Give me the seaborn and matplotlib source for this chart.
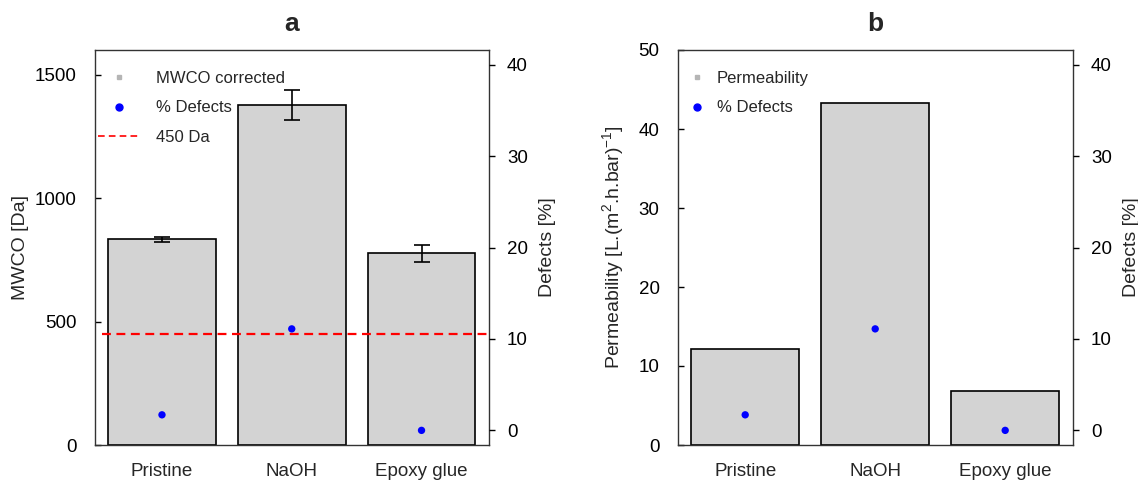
import matplotlib
matplotlib.use("Agg")
import matplotlib.pyplot as plt
import seaborn as sns
import numpy as np
import pandas as pd
from matplotlib.lines import Line2D

# ---- data ----
categories = ["Pristine", "NaOH", "Epoxy glue"]
mwco = [833, 1379, 776]
mwco_err = [10, 61, 33]
permeability = [12.2, 43.3, 6.8]
defects = [1.7, 11.1, 0.0]
threshold = 450
mwco_ticks = [0, 500, 1000, 1500]
perm_ticks = [0, 10, 20, 30, 40, 50]
defect_ticks = [0, 10, 20, 30, 40]

sns.set_style("white")
plt.rcParams["font.family"] = ["Liberation Sans", "DejaVu Sans"]
plt.rcParams["mathtext.fontset"] = "custom"
plt.rcParams["mathtext.rm"] = "Liberation Sans"
plt.rcParams["mathtext.it"] = "Liberation Sans:italic"
plt.rcParams["mathtext.bf"] = "Liberation Sans:bold"
plt.rcParams["mathtext.default"] = "regular"

W, H = 1138, 480
fig = plt.figure(figsize=(W / 100, H / 100), dpi=100)

def px_axes(x0, x1, y0, y1):
    return fig.add_axes([x0 / W, 1 - y1 / H, (x1 - x0) / W, (y1 - y0) / H])

axA = px_axes(94.5, 489, 50, 445)
axB = px_axes(677.6, 1072.8, 50, 445)

TICK = 13.5
LAB = 14
LEG = 12
pos = np.arange(len(categories))

def style_panel(ax, values, ylim, yticks, ylabel, title, label_x):
    df = pd.DataFrame({"cat": categories, "val": values})
    sns.barplot(data=df, x="cat", y="val", ax=ax, color="#d3d3d3",
                edgecolor="black", linewidth=1.2, width=0.83, saturation=1)
    ax.set_xlim(-0.52, 2.52)
    ax.set_ylim(*ylim)
    ax.set_yticks(yticks)
    ax.set_xlabel("")
    ax.set_ylabel(ylabel, fontsize=LAB)
    ax.yaxis.set_label_coords(label_x, 0.5)
    ax.tick_params(axis="y", direction="in", length=4, width=1, pad=13,
                   labelsize=TICK, left=True, colors="black")
    ax.tick_params(axis="x", length=0, pad=13, labelsize=TICK)
    for s in ax.spines.values():
        s.set_color("#333333")
        s.set_linewidth(1.0)
        s.set_visible(True)
    ax.set_title(title, fontsize=19, fontweight="bold", pad=14)
    ax2 = ax.twinx()
    sns.scatterplot(x=pos, y=defects, ax=ax2, color="blue", s=28,
                    edgecolor="none", zorder=5)
    ax2.set_ylim(-1.6, 41.6)
    ax2.set_yticks(defect_ticks)
    ax2.tick_params(axis="y", direction="out", length=4, width=1, pad=9,
                    labelsize=TICK, right=True, colors="black")
    ax2.set_ylabel("Defects [%]", fontsize=LAB)
    ax2.yaxis.set_label_coords(1.127, 0.5)
    for s in ax2.spines.values():
        s.set_visible(False)
    ax2.set_xlim(-0.52, 2.52)
    return ax2

# Panel a
axA2 = style_panel(axA, mwco, (0, 1600), mwco_ticks, "MWCO [Da]", "a", -0.166)
axA.errorbar(pos, mwco, yerr=mwco_err, fmt="none", ecolor="black",
             elinewidth=1.2, capsize=5.5, capthick=1.2, zorder=4)
axA.axhline(threshold, color="red", linestyle=(0, (4, 2.5)), linewidth=1.6,
            xmin=0.02, xmax=0.995, zorder=6)

handlesA = [
    Line2D([], [], marker="s", color="#b5b5b5", linestyle="none", markersize=3.5),
    Line2D([], [], marker="o", color="blue", linestyle="none", markersize=5),
    Line2D([], [], color="red", linestyle=(0, (4, 2.5)), linewidth=1.2),
]
axA.legend(handlesA, ["MWCO corrected", "% Defects", "450 Da"],
           loc="upper left", bbox_to_anchor=((98.3 - 94.5) / 394.5, 0.947),
           frameon=False, fontsize=LEG, handlelength=2.45, handletextpad=1.0,
           labelspacing=0.87, borderpad=0, borderaxespad=0)

# Panel b
axB2 = style_panel(axB, permeability, (0, 50), perm_ticks,
                   r"Permeability [L.(m$^{2}$.h.bar)$^{-1}$]", "b", -0.1306)
handlesB = [
    Line2D([], [], marker="s", color="#b5b5b5", linestyle="none", markersize=3.5),
    Line2D([], [], marker="o", color="blue", linestyle="none", markersize=5),
]
axB.legend(handlesB, ["Permeability", "% Defects"],
           loc="upper left", bbox_to_anchor=((688.6 - 677.6) / 395.2, 0.947),
           frameon=False, fontsize=LEG, handlelength=1.0, handletextpad=0.68,
           labelspacing=0.87, borderpad=0, borderaxespad=0)

fig.savefig("out.png", dpi=100)
